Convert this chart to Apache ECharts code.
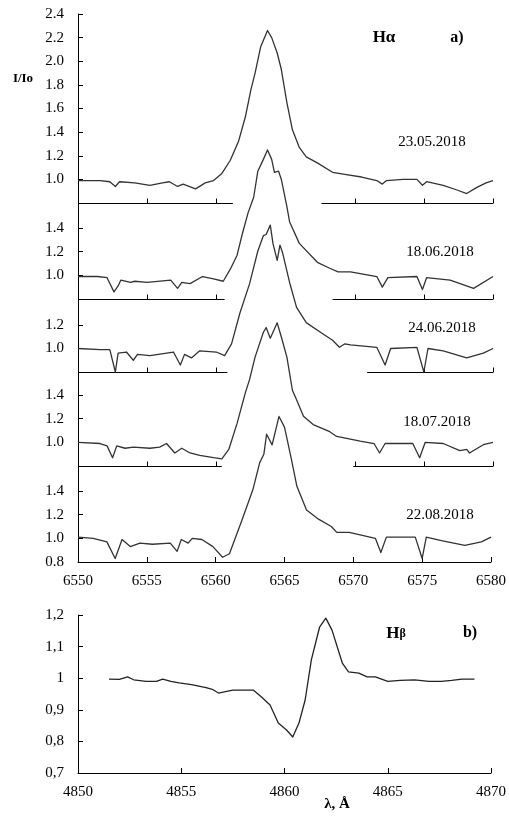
<!DOCTYPE html>
<html style="height: 100%">
<head>
 <meta charset="utf-8">
 <title>Halpha / Hbeta</title>
 <script src="https://cdn.jsdelivr.net/npm/echarts/dist/echarts.min.js"></script>
</head>
<body style="height: 100%; margin: 0; background: #fff">
 <div id="main" style="width: 509px; height: 823px"></div>
 <script type="text/javascript">
 // H-alpha profiles, [wavelength, I/Io]
 var ha_2305 = [[6550,0.99],[6551.6,0.99],[6552.3,0.98],[6552.7,0.94],[6553.0,0.98],[6554.1,0.97],[6555.2,0.95],[6556.1,0.97],[6556.6,0.98],[6557.2,0.94],[6557.6,0.96],[6558.5,0.92],[6559.2,0.97],[6559.8,0.99],[6560.4,1.05],[6561.0,1.16],[6561.6,1.32],[6562.1,1.53],[6562.5,1.76],[6562.8,1.90],[6563.2,2.12],[6563.7,2.26],[6564.0,2.20],[6564.4,2.07],[6564.7,1.93],[6565.1,1.65],[6565.5,1.42],[6566.0,1.27],[6566.5,1.19],[6567.3,1.14],[6568.4,1.06],[6569.4,1.04],[6570.5,1.02],[6571.6,0.99],[6572.0,0.96],[6572.3,0.99],[6573.5,1.0],[6574.5,1.0],[6574.9,0.95],[6575.2,0.98],[6576.4,0.95],[6577.4,0.91],[6578.1,0.88],[6578.8,0.93],[6579.5,0.97],[6580,0.99]];
 var ha_1806 = [[6550,0.99],[6551.4,0.99],[6552.1,0.98],[6552.6,0.86],[6552.9,0.91],[6553.1,0.96],[6553.8,0.94],[6554.1,0.95],[6555.0,0.94],[6556.7,0.96],[6557.2,0.89],[6557.5,0.94],[6558.1,0.93],[6559.0,0.99],[6559.8,0.97],[6560.5,0.95],[6561.0,1.05],[6561.5,1.17],[6561.9,1.36],[6562.3,1.53],[6562.7,1.66],[6563.0,1.88],[6563.4,1.98],[6563.7,2.06],[6564.0,1.98],[6564.2,1.87],[6564.5,1.88],[6564.7,1.81],[6565.1,1.58],[6565.3,1.45],[6566.0,1.27],[6567.3,1.11],[6568.2,1.06],[6568.8,1.03],[6569.7,1.03],[6571.6,0.99],[6572.0,0.90],[6572.4,0.98],[6574.5,0.99],[6574.9,0.88],[6575.2,0.98],[6576.9,0.96],[6578.6,0.89],[6580,0.99]];
 var ha_2406 = [[6550,1.0],[6551.6,0.99],[6552.3,0.99],[6552.7,0.80],[6552.9,0.96],[6553.0,0.97],[6553.5,0.97],[6554.0,0.90],[6554.3,0.95],[6555.2,0.94],[6556.9,0.97],[6557.4,0.86],[6557.7,0.95],[6558.2,0.92],[6558.8,0.98],[6560.0,0.97],[6560.6,0.94],[6561.1,1.04],[6561.7,1.30],[6562.4,1.55],[6563.0,1.83],[6563.4,1.96],[6563.6,1.97],[6563.9,2.05],[6564.1,1.89],[6564.4,1.75],[6564.6,1.88],[6564.8,1.81],[6565.3,1.56],[6565.8,1.35],[6566.5,1.22],[6567.5,1.14],[6568.4,1.07],[6568.9,1.01],[6569.3,1.04],[6569.7,1.03],[6571.6,1.01],[6572.2,0.86],[6572.6,1.00],[6574.5,1.01],[6575.0,0.80],[6575.3,1.0],[6576.4,0.98],[6578.1,0.92],[6579.3,0.96],[6580,1.0]];
 var ha_1807 = [[6550,1.0],[6551.6,0.99],[6552.1,0.97],[6552.5,0.87],[6552.8,0.97],[6553.4,0.95],[6554.0,0.96],[6555.2,0.95],[6555.9,0.96],[6556.4,0.99],[6557.0,0.91],[6557.5,0.95],[6558.1,0.91],[6558.8,0.89],[6559.8,0.87],[6560.4,0.86],[6560.9,0.94],[6561.5,1.16],[6562.1,1.42],[6562.4,1.53],[6562.8,1.72],[6563.4,1.93],[6563.6,1.97],[6563.9,1.88],[6564.4,2.01],[6564.7,1.89],[6565.1,1.72],[6565.5,1.44],[6565.8,1.36],[6566.3,1.22],[6567.0,1.15],[6568.2,1.09],[6568.7,1.05],[6570.4,1.01],[6571.4,0.99],[6571.8,0.91],[6572.2,0.99],[6574.2,0.99],[6574.7,0.87],[6575.1,1.0],[6576.4,0.99],[6577.6,0.93],[6578.1,0.94],[6578.3,0.91],[6579.3,0.98],[6580,1.0]];
 var ha_2208 = [[6550,1.01],[6551.1,1.0],[6552.1,0.97],[6552.7,0.83],[6553.2,0.99],[6553.8,0.93],[6554.5,0.96],[6555.4,0.95],[6556.7,0.96],[6557.2,0.89],[6557.5,0.99],[6558.0,0.96],[6558.3,1.0],[6559.0,0.99],[6559.8,0.93],[6560.5,0.84],[6561.0,0.87],[6561.9,1.15],[6562.7,1.41],[6563.2,1.64],[6563.5,1.71],[6563.7,1.88],[6564.1,1.79],[6564.6,2.03],[6565.0,1.94],[6565.5,1.67],[6565.9,1.44],[6566.6,1.24],[6567.5,1.16],[6568.4,1.10],[6568.8,1.05],[6569.7,1.05],[6571.6,1.0],[6572.0,0.88],[6572.4,1.01],[6574.5,1.01],[6575.0,0.83],[6575.3,1.01],[6576.4,0.98],[6578.1,0.94],[6579.3,0.97],[6580,1.01]];
 // H-beta profile
 var hb = [[4851.5,0.997],[4852.0,0.996],[4852.4,1.004],[4852.7,0.995],[4853.3,0.99],[4853.8,0.99],[4854.1,0.997],[4854.5,0.99],[4854.9,0.985],[4855.5,0.98],[4856.2,0.97],[4856.5,0.965],[4856.8,0.953],[4857.2,0.958],[4857.5,0.962],[4858.0,0.962],[4858.5,0.962],[4858.9,0.94],[4859.3,0.915],[4859.7,0.858],[4860.1,0.836],[4860.4,0.814],[4860.7,0.858],[4861.0,0.931],[4861.3,1.058],[4861.7,1.162],[4862.0,1.19],[4862.3,1.152],[4862.8,1.048],[4863.1,1.02],[4863.6,1.016],[4864.0,1.004],[4864.4,1.004],[4865.0,0.99],[4865.6,0.993],[4866.3,0.995],[4867.0,0.99],[4867.6,0.99],[4868.1,0.993],[4868.6,0.997],[4869.2,0.997]];

 var dates = ['23.05.2018', '18.06.2018', '24.06.2018', '18.07.2018', '22.08.2018'];
 var spectra = [ha_2305, ha_1806, ha_2406, ha_1807, ha_2208];
 var yMax = [2.4, 1.4, 1.2, 1.4, 1.4];
 // pieces of the 0.8 baseline drawn under the upper four profiles
 var baseParts = [
 [[6550, 6561.2], [6567.6, 6580]],
 [[6550, 6560.6], [6568.4, 6580]],
 [[6550, 6560.8], [6570.9, 6580]],
 [[6550, 6560.4], [6569.9, 6580]]
 ];
 var xTicks = [6555, 6560, 6565, 6570, 6575, 6580];

 var FONT = "'Liberation Serif', 'Times New Roman', serif";
 var gridTop = [14, 228, 325, 395, 491];
 var gridH = [189, 71, 47, 71, 71];

 var myChart = echarts.init(document.getElementById('main'));

 function baseRender(params, api) {
 var x1 = api.value(0), x2 = api.value(1);
 var p1 = api.coord([x1, 0.8]), p2 = api.coord([x2, 0.8]);
 var y = Math.round(p1[1]) + 0.5;
 var kids = [{
 type: 'line',
 shape: { x1: p1[0], y1: y, x2: p2[0], y2: y },
 style: { stroke: '#000', lineWidth: 1 }
 }];
 xTicks.forEach(function (t) {
 if (t >= x1 && t <= x2) {
 var p = api.coord([t, 0.8]);
 var x = Math.round(p[0]) + 0.5;
 kids.push({
 type: 'line',
 shape: { x1: x, y1: y, x2: x, y2: y - 5 },
 style: { stroke: '#000', lineWidth: 1 }
 });
 }
 });
 return { type: 'group', children: kids };
 }

 function plain(v) { return String(v); }

 var grid = [], xAxis = [], yAxis = [], series = [];

 for (var i = 0; i < 5; i++) {
 grid.push({ left: 78, width: 415, top: gridTop[i], height: gridH[i] });
 xAxis.push({
 gridIndex: i, type: 'value', min: 6550, max: 6580, interval: 5,
 show: i === 4,
 axisLine: { lineStyle: { color: '#000', width: 1 } },
 axisTick: { inside: true, length: 5, lineStyle: { color: '#000' } },
 axisLabel: { color: '#000', fontFamily: FONT, fontSize: 15, margin: 12, formatter: plain },
 splitLine: { show: false }
 });
 yAxis.push({
 gridIndex: i, type: 'value', min: 0.8, max: yMax[i], interval: 0.2,
 axisLine: { show: false },
 axisTick: { show: true, inside: true, length: 5, lineStyle: { color: '#000' } },
 axisLabel: {
 color: '#000', fontFamily: FONT, fontSize: 15, margin: 14,
 showMinLabel: i === 4,
 formatter: function (v) { return v.toFixed(1); }
 },
 splitLine: { show: false }
 });
 series.push({
 type: 'line', xAxisIndex: i, yAxisIndex: i, data: spectra[i],
 showSymbol: false, smooth: false, clip: false, z: 3,
 lineStyle: { color: '#333', width: 1.3, join: 'round' }
 });
 if (i < 4) {
 series.push({
 type: 'custom', xAxisIndex: i, yAxisIndex: i, data: baseParts[i],
 renderItem: baseRender, clip: false, z: 2, silent: true
 });
 }
 }

 // long vertical axis line of panel a)
 grid.push({ left: 78, width: 415, top: 14, height: 548 });
 xAxis.push({ gridIndex: 5, type: 'value', show: false, min: 0, max: 1 });
 yAxis.push({
 gridIndex: 5, type: 'value', min: 0, max: 1,
 axisLine: { show: true, lineStyle: { color: '#000', width: 1 } },
 axisTick: { show: false }, axisLabel: { show: false }, splitLine: { show: false }
 });

 // panel b)
 grid.push({ left: 78, width: 415, top: 615, height: 158 });
 xAxis.push({
 gridIndex: 6, type: 'value', min: 4850, max: 4870, interval: 5,
 axisLine: { lineStyle: { color: '#000', width: 1 } },
 axisTick: { inside: true, length: 5, lineStyle: { color: '#000' } },
 axisLabel: { color: '#000', fontFamily: FONT, fontSize: 15, margin: 12, formatter: plain },
 splitLine: { show: false }
 });
 yAxis.push({
 gridIndex: 6, type: 'value', min: 0.7, max: 1.2, interval: 0.1,
 axisLine: { show: true, lineStyle: { color: '#000', width: 1 } },
 axisTick: { inside: true, length: 5, lineStyle: { color: '#000' } },
 axisLabel: {
 color: '#000', fontFamily: FONT, fontSize: 15, margin: 14,
 formatter: function (v) { return String(+v.toFixed(1)).replace('.', ','); }
 },
 splitLine: { show: false }
 });
 series.push({
 type: 'line', xAxisIndex: 6, yAxisIndex: 6, data: hb,
 showSymbol: false, smooth: false,
 lineStyle: { color: '#222', width: 1.3, join: 'round' }
 });

 var datePos = [[432, 142], [440, 252], [442, 328], [437, 422], [440, 515]];
 var graphic = dates.map(function (d, k) {
 return {
 type: 'text', x: datePos[k][0], y: datePos[k][1],
 style: { text: d, font: '15px ' + FONT, fill: '#000', align: 'center', verticalAlign: 'middle' }
 };
 });
 graphic.push(
 { type: 'text', x: 23, y: 79, style: { text: 'I/Io', font: 'bold 13px ' + FONT, fill: '#000', align: 'center', verticalAlign: 'middle' } },
 { type: 'text', x: 384, y: 38, style: { text: 'Hα', font: 'bold 17px ' + FONT, fill: '#000', align: 'center', verticalAlign: 'middle' } },
 { type: 'text', x: 457, y: 38, style: { text: 'a)', font: 'bold 16px ' + FONT, fill: '#000', align: 'center', verticalAlign: 'middle' } },
 { type: 'text', x: 396, y: 634, style: { text: '{h|H}{b|β}', rich: { h: { font: 'bold 17px ' + FONT, fill: '#000' }, b: { font: 'bold 12px ' + FONT, fill: '#000' } }, align: 'center', verticalAlign: 'middle' } },
 { type: 'text', x: 470, y: 633, style: { text: 'b)', font: 'bold 16px ' + FONT, fill: '#000', align: 'center', verticalAlign: 'middle' } },
 { type: 'text', x: 337, y: 804, style: { text: 'λ, Å', font: 'bold 15px ' + FONT, fill: '#000', align: 'center', verticalAlign: 'middle' } }
 );

 var option = {
 animation: false,
 backgroundColor: '#fff',
 grid: grid,
 xAxis: xAxis,
 yAxis: yAxis,
 series: series,
 graphic: graphic
 };

 myChart.setOption(option);
 </script>
</body>
</html>
